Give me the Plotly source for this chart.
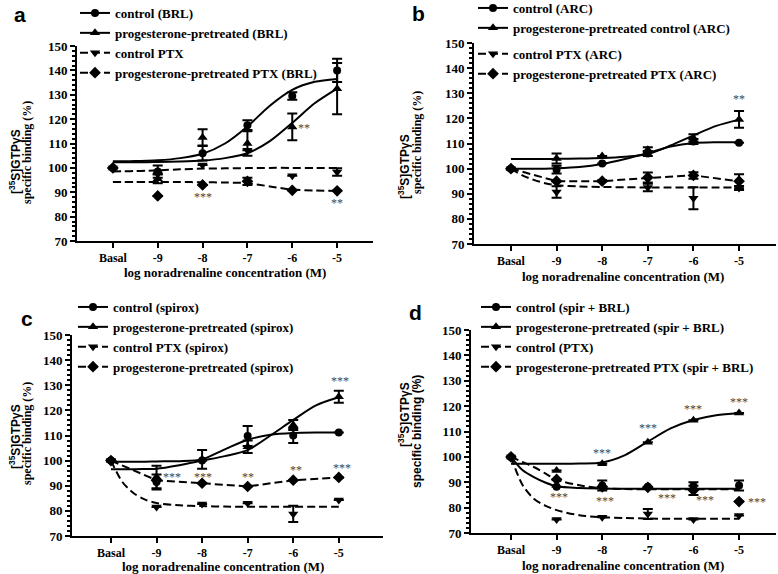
import plotly.graph_objects as go

# ---------------- data ----------------
x_pts = [-10, -9, -8, -7, -6, -5]
x_labels = ["Basal", "-9", "-8", "-7", "-6", "-5"]
x_fit = [-10, -9.75, -9.5, -9.25, -9, -8.5, -8, -7.5, -7, -6.5, -6, -5.5, -5]

# panel a (BRL)
a_names = ["control (BRL)", "progesterone-pretreated (BRL)", "control PTX",
           "progesterone-pretreated PTX (BRL)"]
a_ctrl = [100, 98.5, 106, 117.5, 129.5, 140]
a_ctrl_err = [None, 2.5, 3, 2, 1.5, 4.8]
a_prog = [100, 95.5, 112.5, 110, 116.8, 132.5]
a_prog_err = [None, 1.8, 3.3, 5, 5.5, 10.5]
a_ptx = [100, 97.5, 101.2, 107.2, 96.8, 98.3]
a_ptx_err = [None, None, None, None, None, 1.5]
a_pptx = [100, 88.5, 93, 94.5, 90.8, 90.6]
a_pptx_err = [None, None, None, 1.5, None, None]
a_ctrl_fit = [102.7, 102.7, 102.8, 102.9, 103.1, 104.0, 105.8, 110.0, 117.0, 125.5, 132.0, 135.3, 136.5]
a_prog_fit = [102.3, 102.3, 102.3, 102.3, 102.4, 102.6, 103.0, 104.0, 106.0, 111.0, 118.5, 126.5, 132.5]
a_ptx_fit = [98.5, 98.6, 98.7, 98.8, 99.0, 99.4, 99.7, 99.8, 99.9, 100, 100, 100, 100]
a_pptx_fit = [94.2, 94.2, 94.2, 94.2, 94.2, 94.2, 94.1, 94.0, 93.7, 92.4, 91.1, 90.7, 90.5]
a_stars = [(-5.73, 116.4, "**"), (-8, 88, "***"), (-5, 85.7, "**")]

# panel b (ARC)
b_names = ["control (ARC)", "progesterone-pretreated control (ARC)", "control PTX (ARC)",
           "progesterone-pretreated PTX (ARC)"]
b_ctrl = [100, 99.6, 102, 106, 110.8, 110.3]
b_ctrl_err = [None, 1.5, None, 1, 1, None]
b_prog = [100, 104, 105, 107.5, 112.2, 119.6]
b_prog_err = [None, 2, None, 1, 1.5, 3.3]
b_ptx = [100, 90.7, 95, 92.5, 88.2, 92.3]
b_ptx_err = [None, 2.3, None, 1.5, 4.4, 0.8]
b_pptx = [100, 95, 95, 96.5, 97.3, 95]
b_pptx_err = [None, None, None, 2, 1.3, 2.8]
b_ctrl_fit = [100, 100, 100, 100, 100.1, 100.6, 101.8, 103.8, 106.2, 108.8, 110.2, 110.5, 110.5]
b_prog_fit = [103.8, 103.8, 103.8, 103.8, 103.9, 104.0, 104.2, 104.7, 105.8, 109.2, 113.2, 117.0, 119.5]
b_ptx_fit = [100, 97.3, 95.5, 94.2, 93.4, 92.9, 92.7, 92.6, 92.5, 92.5, 92.5, 92.5, 92.5]
b_pptx_line = [100, 95, 95, 96.3, 97.3, 95]
b_stars = [(-5, 127.7, "**")]

# panel c (spirox)
c_names = ["control (spirox)", "progesterone-pretreated (spirox)", "control PTX (spirox)",
           "progesterone-pretreated (spirox)"]
c_ctrl = [100, 91.5, 100, 109.8, 110, 111.2]
c_ctrl_err = [None, 3, None, 4, 3, None]
c_prog = [100, 93.5, 100.5, 105.5, 114.2, 125.4]
c_prog_err = [None, 4.5, 3.7, 2.5, 2, 2.4]
c_ptx = [100, 81.5, 82.7, 83, 78.8, 84.3]
c_ptx_err = [None, None, None, None, 3.2, None]
c_pptx = [100, 92.2, 91, 89.7, 92.2, 93.3]
c_pptx_err = [None, None, None, None, None, None]
c_ctrl_fit = [99.6, 99.6, 99.6, 99.6, 99.7, 99.8, 100.5, 104.5, 108.3, 110.3, 111.0, 111.2, 111.2]
c_prog_fit = [96.6, 96.6, 96.6, 96.7, 96.8, 98.2, 100.0, 101.8, 104.2, 110.0, 116.2, 122.0, 125.2]
c_ptx_fit = [100, 91.5, 87, 84.5, 83.1, 82.2, 81.9, 81.7, 81.6, 81.6, 81.6, 81.6, 81.6]
c_pptx_line = [100, 92.2, 91, 89.7, 92.2, 93.3]
c_stars = [(-8.67, 93.3, "***"), (-7.98, 93.3, "***"), (-7, 93.3, "**"),
           (-5.95, 96.2, "**"), (-4.94, 97.1, "***"), (-4.98, 131.5, "***")]

# panel d (spir + BRL)
d_names = ["control (spir + BRL)", "progesterone-pretreated (spir + BRL)", "control (PTX)",
           "progesterone-pretreated PTX (spir + BRL)"]
d_ctrl = [100, 88.2, 88.7, 88.2, 88.5, 88.7]
d_ctrl_err = [None, None, 2, None, 1.5, 2]
d_prog = [100, 94.6, 97.3, 105.8, 114.4, 117.3]
d_prog_err = [None, None, None, None, None, None]
d_ptx = [100, 75.3, 76.2, 77.5, 75.3, 76.9]
d_ptx_err = [None, None, None, 2, None, None]
d_pptx = [100, 91.1, 88.2, 88, 86.8, 82.4]
d_pptx_err = [None, None, None, None, 1.8, None]
d_ctrl_fit = [100, 94.8, 92.0, 89.9, 88.4, 87.7, 87.5, 87.4, 87.4, 87.4, 87.4, 87.4, 87.4]
d_prog_fit = [97.3, 97.3, 97.3, 97.3, 97.3, 97.4, 97.8, 100.7, 106.0, 111.2, 114.5, 116.4, 117.2]
d_ptx_fit = [100, 89, 83.5, 80.8, 79, 77, 76.2, 75.9, 75.7, 75.6, 75.6, 75.6, 75.6]
d_pptx_fit = [100, 98, 96, 93.5, 91, 88.8, 87.6, 87.3, 87.2, 87.2, 87.2, 87.2, 87.2]
d_stars = [(-8, 101.6, "***"), (-7, 111.4, "***"), (-6, 119, "***"), (-5, 121.7, "***"),
           (-8.95, 84.1, "***"), (-7.94, 82.8, "***"), (-6.58, 83.8, "***"),
           (-5.74, 83, "***"), (-4.6, 82.4, "***")]

# ---------------- styling ----------------
W, H = 778, 574
SERIF = "Liberation Serif"
SANS = "Liberation Sans"
symbols = ["circle", "triangle-up", "triangle-down", "diamond"]
dashes = ["solid", "solid", "8px,4px", "8px,4px"]
msizes = [8, 9, 9, 9]

panels = [
    dict(key="a", names=a_names,
         pts=[(a_ctrl, a_ctrl_err), (a_prog, a_prog_err), (a_ptx, a_ptx_err), (a_pptx, a_pptx_err)],
         fits=[(x_fit, a_ctrl_fit), (x_fit, a_prog_fit), (x_fit, a_ptx_fit), (x_fit, a_pptx_fit)],
         stars=a_stars, xdom=[77, 373], ydom=[46, 241], xr=[-10.8, -4.2],
         legend=dict(x=75, y=-2), groups=None,
         ytitle=[(15, 162), (27, 153)], ysans=False, xtitle=(225, 272), letter=(20, 14)),
    dict(key="b", names=b_names,
         pts=[(b_ctrl, b_ctrl_err), (b_prog, b_prog_err), (b_ptx, b_ptx_err), (b_pptx, b_pptx_err)],
         fits=[(x_fit, b_ctrl_fit), (x_fit, b_prog_fit), (x_fit, b_ptx_fit), (x_pts, b_pptx_line)],
         stars=b_stars, xdom=[474, 776], ydom=[43, 244], xr=[-10.81, -4.19],
         legend=dict(x=473, y=-7), groups=["b1", "b1", "b2", "b2"],
         ytitle=[(404, 167), (417, 143)], ysans=False, xtitle=(623, 276), letter=(418, 13)),
    dict(key="c", names=c_names,
         pts=[(c_ctrl, c_ctrl_err), (c_prog, c_prog_err), (c_ptx, c_ptx_err), (c_pptx, c_pptx_err)],
         fits=[(x_fit, c_ctrl_fit), (x_fit, c_prog_fit), (x_fit, c_ptx_fit), (x_pts, c_pptx_line)],
         stars=c_stars, xdom=[72, 383], ydom=[335, 536], xr=[-10.855, -4.03],
         legend=dict(x=73, y=292), groups=None,
         ytitle=[(15, 437), (27, 434)], ysans=False, xtitle=(223, 566), letter=(27, 318)),
    dict(key="d", names=d_names,
         pts=[(d_ctrl, d_ctrl_err), (d_prog, d_prog_err), (d_ptx, d_ptx_err), (d_pptx, d_pptx_err)],
         fits=[(x_fit, d_ctrl_fit), (x_fit, d_prog_fit), (x_fit, d_ptx_fit), (x_fit, d_pptx_fit)],
         stars=d_stars, xdom=[471, 776], ydom=[330, 533], xr=[-10.877, -4.19],
         legend=dict(x=476, y=292), groups=None,
         ytitle=[(404, 415), (417, 432)], ysans=True, xtitle=(623, 565), letter=(416, 312)),
]

fig = go.Figure()
layout = dict(width=W, height=H, margin=dict(l=0, r=0, t=0, b=0, autoexpand=False),
              paper_bgcolor="white", plot_bgcolor="white", showlegend=True)
annotations = []

for i, p in enumerate(panels):
    n = "" if i == 0 else str(i + 1)
    xa, ya = "x" + n, "y" + n
    lg = "legend" + n
    # fitted curves
    for k in range(4):
        fx, fy = p["fits"][k]
        shape = "linear" if fx is x_pts else "spline"
        fig.add_trace(go.Scatter(x=fx, y=fy, mode="lines", xaxis=xa, yaxis=ya,
                                 line=dict(color="black", width=2, dash=dashes[k], shape=shape,
                                           smoothing=0.8),
                                 showlegend=False, hoverinfo="skip", cliponaxis=False))
    # data points with error bars
    for k in range(4):
        vy, ve = p["pts"][k]
        fig.add_trace(go.Scatter(x=x_pts, y=vy, mode="markers", xaxis=xa, yaxis=ya,
                                 marker=dict(symbol=symbols[k], size=msizes[k], color="black"),
                                 error_y=dict(type="data", array=ve, visible=True, color="black",
                                              thickness=2, width=5),
                                 showlegend=False, cliponaxis=False))
    # legend entries
    for k in range(4):
        kw = {}
        if p["groups"]:
            kw["legendgroup"] = p["groups"][k]
        fig.add_trace(go.Scatter(x=[None], y=[None], mode="lines+markers", xaxis=xa, yaxis=ya,
                                 name=p["names"][k], legend=lg,
                                 line=dict(color="black", width=2, dash=dashes[k]),
                                 marker=dict(symbol=symbols[k], size=msizes[k], color="black"),
                                 **kw))
    layout[lg] = dict(x=p["legend"]["x"] / W, y=1 - p["legend"]["y"] / H,
                      xanchor="left", yanchor="top", bgcolor="rgba(0,0,0,0)",
                      font=dict(family=SERIF, size=13, color="black", weight="bold"),
                      tracegroupgap=6, itemwidth=30)
    # axes
    layout["xaxis" + n] = dict(
        domain=[p["xdom"][0] / W, p["xdom"][1] / W], range=p["xr"], anchor=ya,
        tickmode="array", tickvals=x_pts, ticktext=x_labels, ticks="outside",
        ticklen=5, tickwidth=2, tickcolor="black", showline=True, linewidth=2,
        linecolor="black", showgrid=False, zeroline=False, automargin=False,
        tickfont=dict(family=SERIF, size=12, color="black", weight="bold"))
    layout["yaxis" + n] = dict(
        domain=[1 - p["ydom"][1] / H, 1 - p["ydom"][0] / H], range=[70, 150], anchor=xa,
        tick0=70, dtick=10, ticks="outside", ticklen=5, tickwidth=2, tickcolor="black",
        minor=dict(dtick=2, ticks="outside", ticklen=3, tickwidth=1.5, tickcolor="black"),
        showline=True, linewidth=2, linecolor="black", showgrid=False, zeroline=False,
        automargin=False,
        tickfont=dict(family=SERIF, size=13, color="black", weight="bold"))
    # stars
    for sx, sy, st in p["stars"]:
        annotations.append(dict(x=sx, y=sy, xref=xa, yref=ya, text=st, showarrow=False,
                                xanchor="center", yanchor="middle",
                                font=dict(family=SERIF, size=12, color="#444")))
    # y title lines
    (l1x, l1y), (l2x, l2y) = p["ytitle"]
    annotations.append(dict(x=l1x / W, y=1 - l1y / H, xref="paper", yref="paper",
                            xanchor="center", yanchor="middle",
                            text="[<sup>35</sup>S]GTPγS", textangle=-90, showarrow=False,
                            font=dict(family=SANS, size=12, color="black", weight="bold")))
    annotations.append(dict(x=l2x / W, y=1 - l2y / H, xref="paper", yref="paper",
                            xanchor="center", yanchor="middle",
                            text="specific binding (%)", textangle=-90, showarrow=False,
                            font=dict(family=SANS if p["ysans"] else SERIF, size=12,
                                      color="black", weight="bold")))
    # x title
    tx, ty = p["xtitle"]
    annotations.append(dict(x=tx / W, y=1 - ty / H, xref="paper", yref="paper",
                            xanchor="center", yanchor="middle",
                            text="log noradrenaline concentration (M)", showarrow=False,
                            font=dict(family=SERIF, size=13, color="black", weight="bold")))
    # panel letter
    lx, ly = p["letter"]
    annotations.append(dict(x=lx / W, y=1 - ly / H, xref="paper", yref="paper",
                            xanchor="center", yanchor="middle",
                            text=p["key"], showarrow=False,
                            font=dict(family=SANS, size=21, color="black", weight="bold")))

layout["annotations"] = annotations
fig.update_layout(**layout)
fig.write_html("out.html", config={"displayModeBar": False},
               post_script="document.body.style.margin='0';document.body.style.padding='0';")
